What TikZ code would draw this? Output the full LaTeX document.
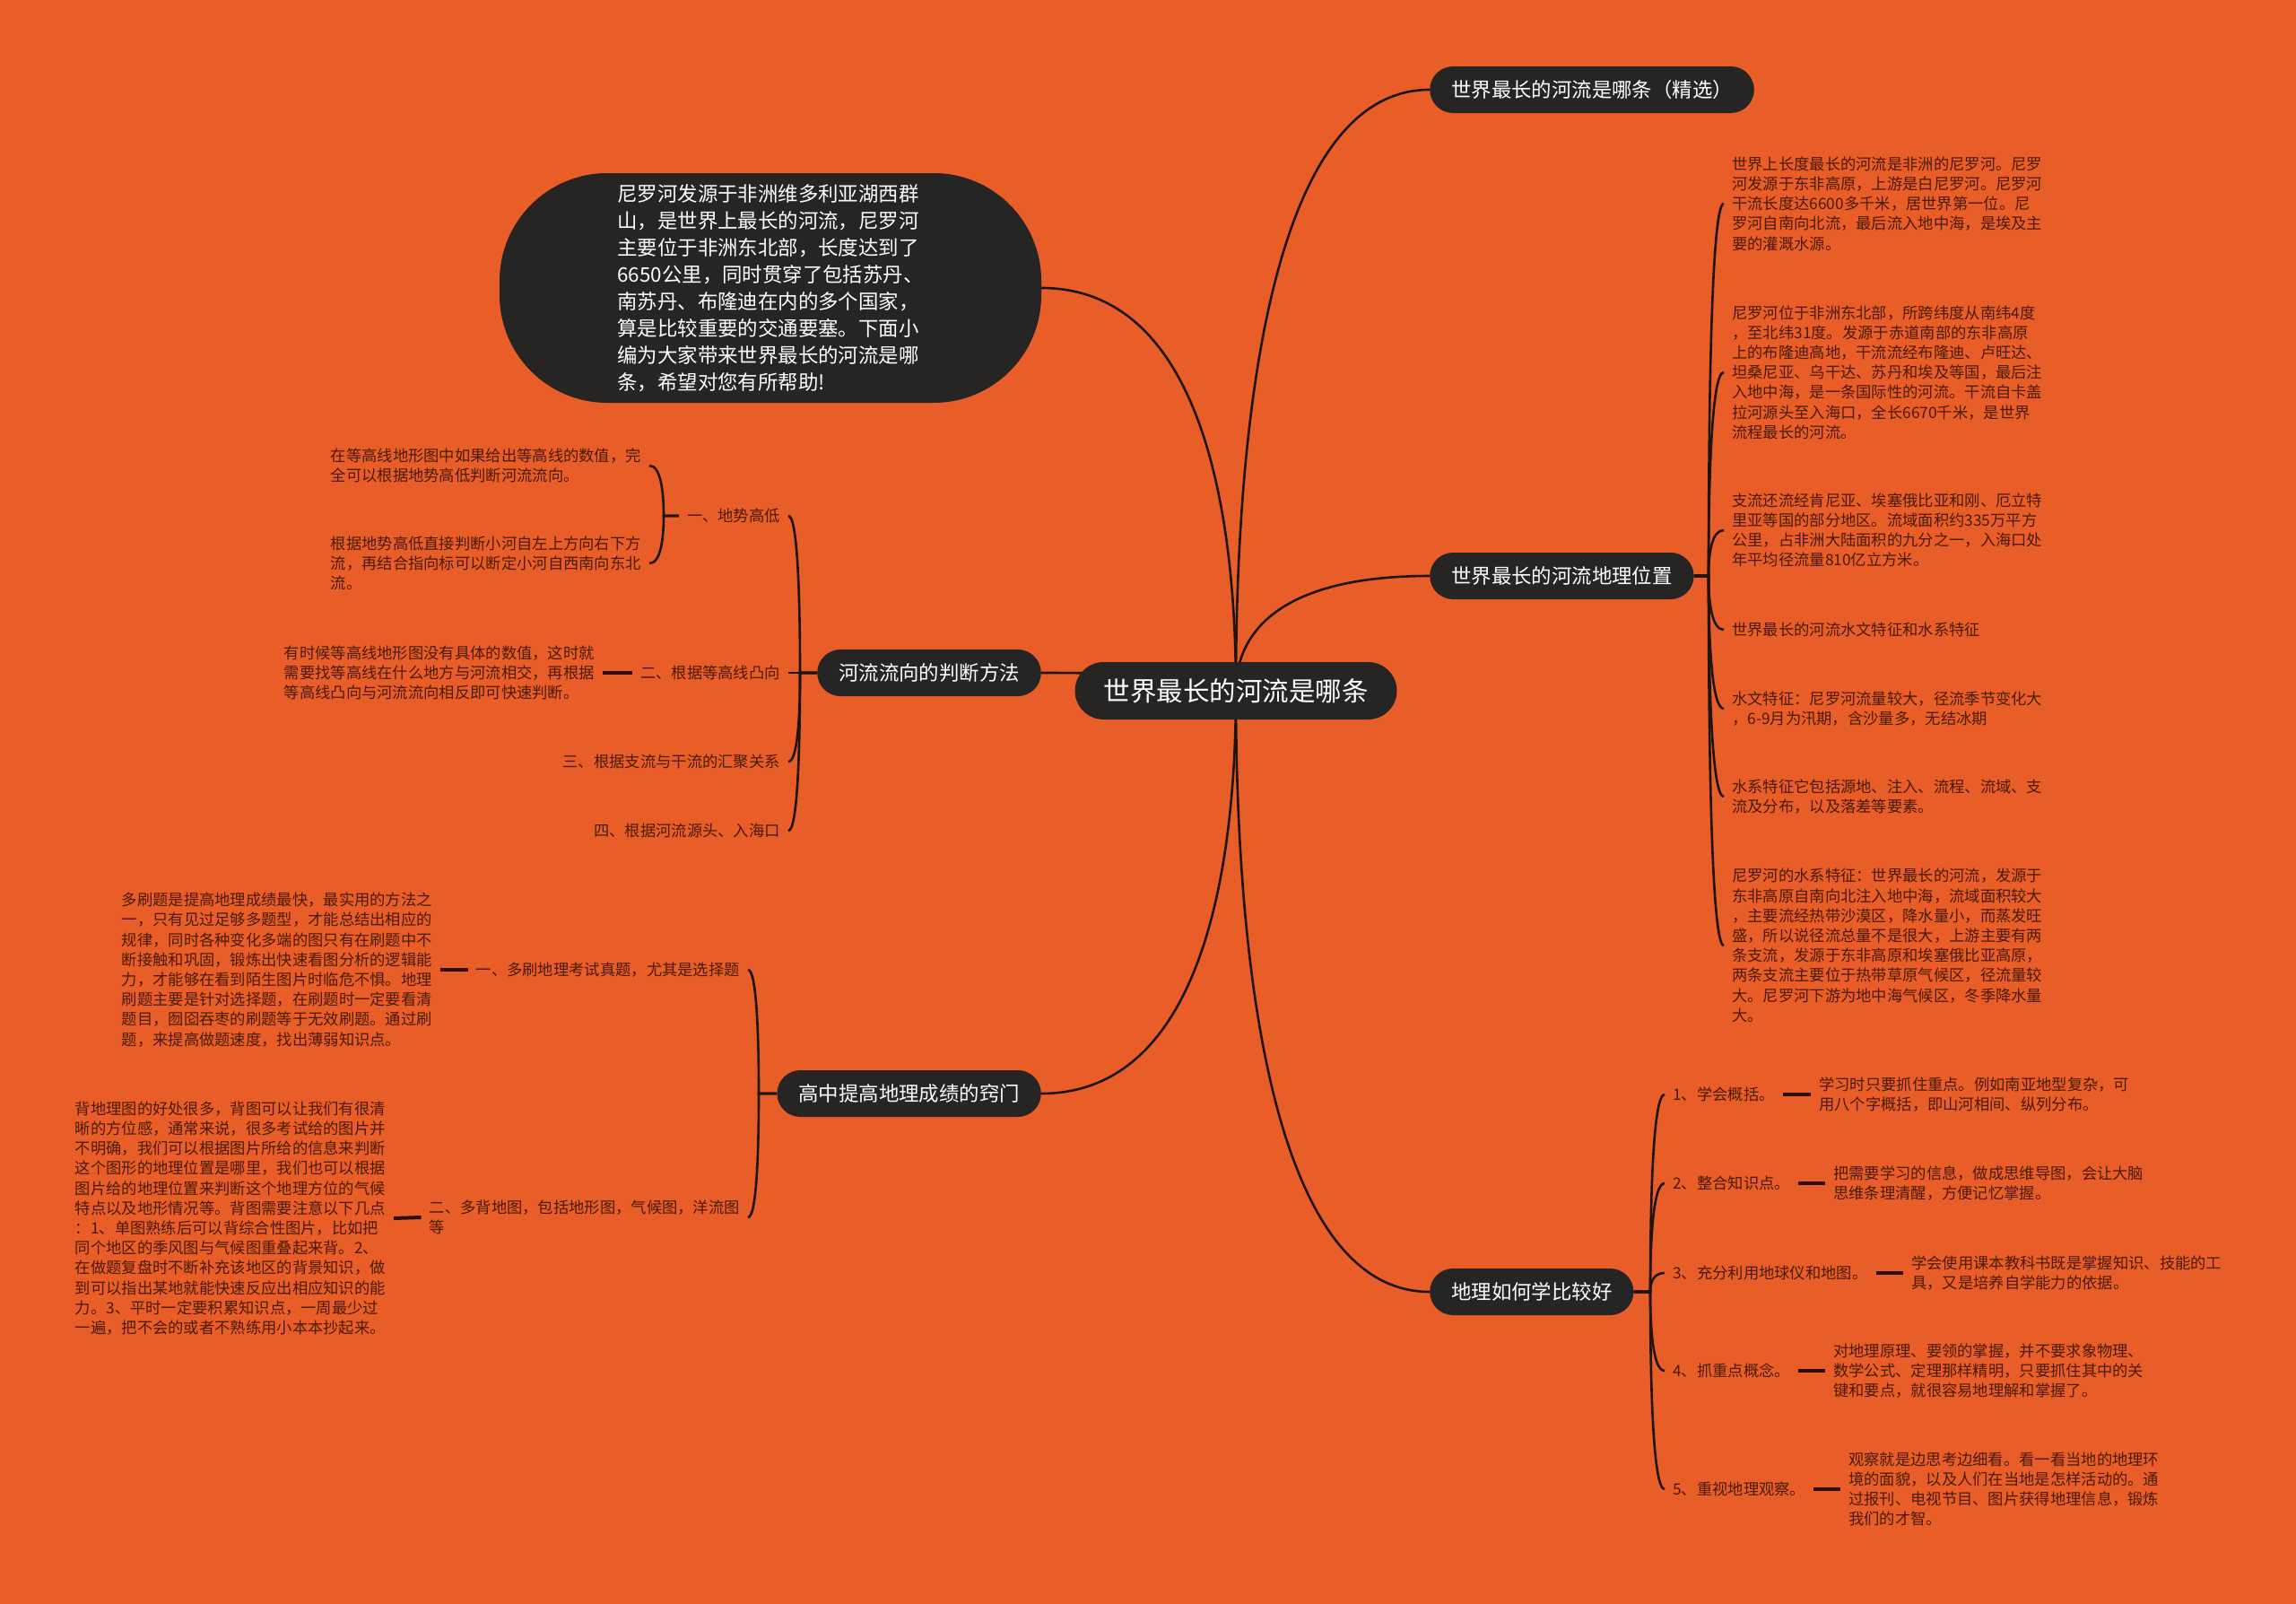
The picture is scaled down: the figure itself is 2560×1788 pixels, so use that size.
\documentclass[tikz,border=0pt]{standalone}
\usepackage{fontspec}
\setmainfont{Noto Sans CJK SC}
\usetikzlibrary{calc,backgrounds}
\definecolor{bgc}{HTML}{E95E28}
\definecolor{nodefill}{HTML}{272524}
\definecolor{linec}{HTML}{1E1511}
\definecolor{txtc}{HTML}{4A1A0A}
\definecolor{dashc}{HTML}{2E0E04}
\begin{document}
\begin{tikzpicture}[x=1pt,y=-1pt,
  pillnode/.style={fill=nodefill, text=white, rounded corners=26pt, minimum height=52pt, inner xsep=24pt, inner ysep=0pt, font=\fontsize{22.4}{26}\selectfont},
  rootnode/.style={pillnode, rounded corners=32pt, minimum height=64pt, inner xsep=32pt, font=\fontsize{29.5}{34}\selectfont},
  bignode/.style={fill=nodefill, text=white, rounded corners=120pt, minimum width=604pt, minimum height=256pt, align=left, font=\fontsize{22.4}{30}\selectfont},
  leaf/.style={text=txtc, inner xsep=9pt, inner ysep=2pt, align=left, font=\fontsize{17.3}{22.2}\selectfont},
  conn/.style={draw=linec, line width=2.6pt},
  dashln/.style={draw=dashc, line width=4pt},
  curvy/.style={to path={.. controls ($(\tikztostart)!0.5!(\tikztostart|-\tikztotarget)$) and ($(\tikztostart|-\tikztotarget)!0.22!(\tikztotarget)$) .. (\tikztotarget) \tikztonodes}}
]
\useasboundingbox (0,0) rectangle (2560,1788);

% main nodes
\node[rootnode] (C) at (1378,770) {世界最长的河流是哪条};
\node[pillnode, anchor=west] (R1) at (1594,100) {世界最长的河流是哪条（精选）};
\node[pillnode, anchor=west] (R2) at (1594,642) {世界最长的河流地理位置};
\node[pillnode, anchor=west] (R3) at (1594,1440) {地理如何学比较好};
\node[bignode] (L0) at (859,321) {尼罗河发源于非洲维多利亚湖西群\\山，是世界上最长的河流，尼罗河\\主要位于非洲东北部，长度达到了\\6650公里，同时贯穿了包括苏丹、\\南苏丹、布隆迪在内的多个国家，\\算是比较重要的交通要塞。下面小\\编为大家带来世界最长的河流是哪\\条，希望对您有所帮助!};
\node[pillnode, anchor=east] (L1) at (1161,750) {河流流向的判断方法};
\node[pillnode, anchor=east] (L2) at (1161,1219) {高中提高地理成绩的窍门};

% junctions
\coordinate (J2) at (1905,642);
\coordinate (J3) at (1840,1440);
\coordinate (J1) at (892,750);
\coordinate (J4) at (846,1219);
\coordinate (J5) at (740,575);

% right: geography position
\node[leaf, anchor=west] (a1) at (1922,227) {世界上长度最长的河流是非洲的尼罗河。尼罗\\河发源于东非高原，上游是白尼罗河。尼罗河\\干流长度达6600多千米，居世界第一位。尼\\罗河自南向北流，最后流入地中海，是埃及主\\要的灌溉水源。};
\node[leaf, anchor=west] (a2) at (1922,415) {尼罗河位于非洲东北部，所跨纬度从南纬4度\\，至北纬31度。发源于赤道南部的东非高原\\上的布隆迪高地，干流流经布隆迪、卢旺达、\\坦桑尼亚、乌干达、苏丹和埃及等国，最后注\\入地中海，是一条国际性的河流。干流自卡盖\\拉河源头至入海口，全长6670千米，是世界\\流程最长的河流。};
\node[leaf, anchor=west] (a3) at (1922,591) {支流还流经肯尼亚、埃塞俄比亚和刚、厄立特\\里亚等国的部分地区。流域面积约335万平方\\公里，占非洲大陆面积的九分之一，入海口处\\年平均径流量810亿立方米。};
\node[leaf, anchor=west] (a4) at (1922,702) {世界最长的河流水文特征和水系特征};
\node[leaf, anchor=west] (a5) at (1922,790) {水文特征：尼罗河流量较大，径流季节变化大\\，6-9月为汛期，含沙量多，无结冰期};
\node[leaf, anchor=west] (a6) at (1922,888) {水系特征它包括源地、注入、流程、流域、支\\流及分布，以及落差等要素。};
\node[leaf, anchor=west] (a7) at (1922,1054) {尼罗河的水系特征：世界最长的河流，发源于\\东非高原自南向北注入地中海，流域面积较大\\，主要流经热带沙漠区，降水量小，而蒸发旺\\盛，所以说径流总量不是很大，上游主要有两\\条支流，发源于东非高原和埃塞俄比亚高原，\\两条支流主要位于热带草原气候区，径流量较\\大。尼罗河下游为地中海气候区，冬季降水量\\大。};

% right: how to learn geography
\node[leaf, anchor=west] (b1) at (1856,1220) {1、学会概括。};
\node[leaf, anchor=west] (b2) at (1856,1319) {2、整合知识点。};
\node[leaf, anchor=west] (b3) at (1856,1419) {3、充分利用地球仪和地图。};
\node[leaf, anchor=west] (b4) at (1856,1528) {4、抓重点概念。};
\node[leaf, anchor=west] (b5) at (1856,1660) {5、重视地理观察。};
\node[leaf, anchor=west] (bd1) at (2019,1220) {学习时只要抓住重点。例如南亚地型复杂，可\\用八个字概括，即山河相间、纵列分布。};
\node[leaf, anchor=west] (bd2) at (2035,1319) {把需要学习的信息，做成思维导图，会让大脑\\思维条理清醒，方便记忆掌握。};
\node[leaf, anchor=west] (bd3) at (2122,1419) {学会使用课本教科书既是掌握知识、技能的工\\具，又是培养自学能力的依据。};
\node[leaf, anchor=west] (bd4) at (2035,1528) {对地理原理、要领的掌握，并不要求象物理、\\数学公式、定理那样精明，只要抓住其中的关\\键和要点，就很容易地理解和掌握了。};
\node[leaf, anchor=west] (bd5) at (2052,1660) {观察就是边思考边细看。看一看当地的地理环\\境的面貌，以及人们在当地是怎样活动的。通\\过报刊、电视节目、图片获得地理信息，锻炼\\我们的才智。};

% left: river flow direction
\node[leaf, anchor=east] (c1) at (879,575) {一、地势高低};
\node[leaf, anchor=east] (c2) at (879,750) {二、根据等高线凸向};
\node[leaf, anchor=east] (c3) at (879,849) {三、根据支流与干流的汇聚关系};
\node[leaf, anchor=east] (c4) at (879,926) {四、根据河流源头、入海口};
\node[leaf, anchor=east] (c1a) at (724,519) {在等高线地形图中如果给出等高线的数值，完\\全可以根据地势高低判断河流流向。};
\node[leaf, anchor=east] (c1b) at (724,628) {根据地势高低直接判断小河自左上方向右下方\\流，再结合指向标可以断定小河自西南向东北\\流。};
\node[leaf, anchor=east] (c2a) at (672,750) {有时候等高线地形图没有具体的数值，这时就\\需要找等高线在什么地方与河流相交，再根据\\等高线凸向与河流流向相反即可快速判断。};

% left: tips for geography scores
\node[leaf, anchor=east] (d1) at (834,1081) {一、多刷地理考试真题，尤其是选择题};
\node[leaf, anchor=east] (d2) at (834,1357) {二、多背地图，包括地形图，气候图，洋流图\\等};
\node[leaf, anchor=east] (d1a) at (491,1081) {多刷题是提高地理成绩最快，最实用的方法之\\一，只有见过足够多题型，才能总结出相应的\\规律，同时各种变化多端的图只有在刷题中不\\断接触和巩固，锻炼出快速看图分析的逻辑能\\力，才能够在看到陌生图片时临危不惧。地理\\刷题主要是针对选择题，在刷题时一定要看清\\题目，囫囵吞枣的刷题等于无效刷题。通过刷\\题，来提高做题速度，找出薄弱知识点。};
\node[leaf, anchor=east] (d2a) at (439,1358) {背地理图的好处很多，背图可以让我们有很清\\晰的方位感，通常来说，很多考试给的图片并\\不明确，我们可以根据图片所给的信息来判断\\这个图形的地理位置是哪里，我们也可以根据\\图片给的地理位置来判断这个地理方位的气候\\特点以及地形情况等。背图需要注意以下几点\\：1、单图熟练后可以背综合性图片，比如把\\同个地区的季风图与气候图重叠起来背。2、\\在做题复盘时不断补充该地区的背景知识，做\\到可以指出某地就能快速反应出相应知识的能\\力。3、平时一定要积累知识点，一周最少过\\一遍，把不会的或者不熟练用小本本抄起来。};

\begin{pgfonlayer}{background}
  \fill[bgc] (0,0) rectangle (2560,1788);
  % root connectors
  \draw[conn] (C.center) to[curvy] (R1.west);
  \draw[conn] (C.center) to[curvy] (R2.west);
  \draw[conn] (C.center) to[curvy] (R3.west);
  \draw[conn] (C.center) to[curvy] (L0.east);
  \draw[conn] (C.center) to[curvy] (L1.east);
  \draw[conn] (C.center) to[curvy] (L2.east);
  % R2 children
  \foreach \n in {a1,a2,a3,a4,a5,a6,a7}
    \draw[conn] (R2.east) -- (J2) to[curvy] (\n.west);
  % R3 children
  \foreach \n in {b1,b2,b3,b4,b5}
    \draw[conn] (R3.east) -- (J3) to[curvy] (\n.west);
  % L1 children
  \foreach \n in {c1,c2,c3,c4}
    \draw[conn] (L1.west) -- (J1) to[curvy] (\n.east);
  \foreach \n in {c1a,c1b}
    \draw[conn] (c1.west) -- (J5) to[curvy] (\n.east);
  % L2 children
  \foreach \n in {d1,d2}
    \draw[conn] (L2.west) -- (J4) to[curvy] (\n.east);
  % dashes
  \draw[dashln] (b1.east) -- (bd1.west);
  \draw[dashln] (b2.east) -- (bd2.west);
  \draw[dashln] (b3.east) -- (bd3.west);
  \draw[dashln] (b4.east) -- (bd4.west);
  \draw[dashln] (b5.east) -- (bd5.west);
  \draw[dashln] (c2.west) -- (c2a.east);
  \draw[dashln] (d1.west) -- (d1a.east);
  \draw[dashln] (d2.west) -- (d2a.east);
\end{pgfonlayer}
\end{tikzpicture}
\end{document}
